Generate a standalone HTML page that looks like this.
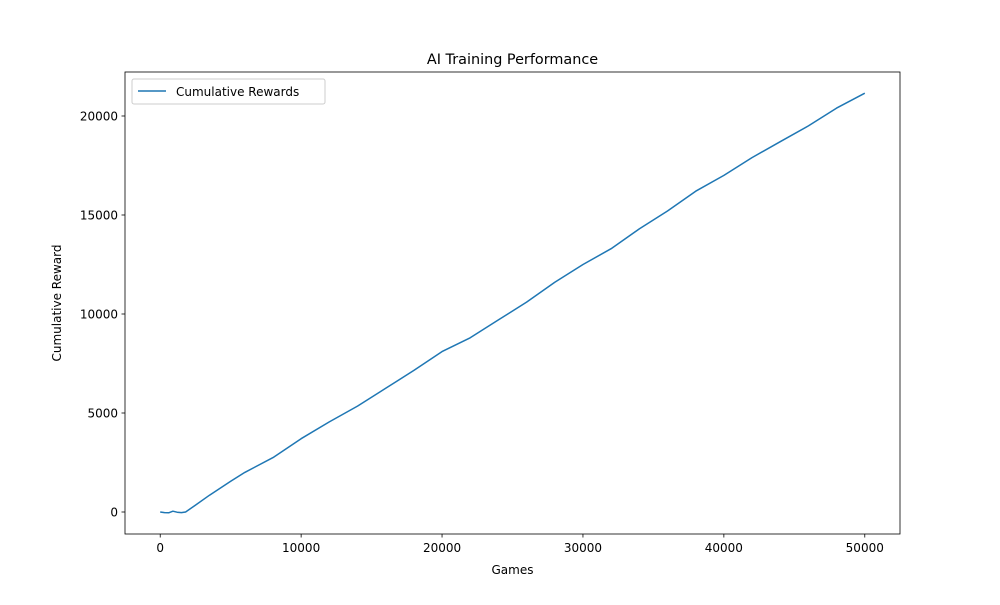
<!DOCTYPE html>
<html><head><meta charset="utf-8">
<style>
body{margin:0;background:#fff;}
svg text{font-family:"DejaVu Sans","Liberation Sans",sans-serif;fill:#000;}
</style></head>
<body>
<svg id="chart" width="1000" height="600" xmlns="http://www.w3.org/2000/svg">
<rect width="1000" height="600" fill="#fff"/>
<text x="512.5" y="64" font-size="14.4" text-anchor="middle">AI Training Performance</text>
<g id="xticks"></g>
<g id="yticks"></g>
<polyline id="line" fill="none" stroke="#1f77b4" stroke-width="1.5" stroke-linejoin="round"/>
<rect x="125" y="72" width="775" height="462" fill="none" stroke="#000" stroke-width="0.8"/>
<text x="512.5" y="574" font-size="12" text-anchor="middle">Games</text>
<text transform="translate(61,303) rotate(-90)" font-size="12" text-anchor="middle">Cumulative Reward</text>
<g>
<rect x="132" y="79" width="193" height="25" rx="2" fill="#fff" stroke="#ccc" stroke-width="1"/>
<line x1="138" y1="91" x2="166" y2="91" stroke="#1f77b4" stroke-width="1.5"/>
<text x="176" y="96" font-size="12">Cumulative Rewards</text>
</g>
</svg>
<script>
const games=[0,300,600,900,1200,1500,1800,2500,3500,5000,6000,8000,10000,12000,14000,16000,18000,20000,22000,24000,26000,28000,30000,32000,34000,36000,38000,40000,42000,44000,46000,48000,50000];
const rewards=[0,-30,-40,40,-10,-30,0,350,850,1550,2000,2750,3700,4550,5350,6250,7150,8100,8800,9700,10600,11600,12500,13300,14300,15200,16200,17000,17900,18700,19500,20400,21150];
const xTicks=[0,10000,20000,30000,40000,50000];
const yTicks=[0,5000,10000,15000,20000];
const X0=125,X1=900,Y0=72,Y1=534,xmin=-2500,xmax=52500,ymin=-1111,ymax=22222;
const sx=v=>X0+(v-xmin)/(xmax-xmin)*(X1-X0);
const sy=v=>Y1-(v-ymin)/(ymax-ymin)*(Y1-Y0);
const ns="http://www.w3.org/2000/svg";
document.getElementById('line').setAttribute('points',games.map((g,i)=>sx(g).toFixed(1)+','+sy(rewards[i]).toFixed(1)).join(' '));
const xg=document.getElementById('xticks');
xTicks.forEach(t=>{
 const l=document.createElementNS(ns,'line');
 
 
 l.setAttribute('x1',sx(t));l.setAttribute('x2',sx(t));l.setAttribute('y1',Y1);l.setAttribute('y2',Y1+3.5);l.setAttribute('stroke','#000');l.setAttribute('stroke-width','0.8');
 xg.appendChild(l);
 const tx=document.createElementNS(ns,'text');
 
 
 tx.setAttribute('x',sx(t));tx.setAttribute('y',Y1+18);tx.setAttribute('font-size','12');tx.setAttribute('text-anchor','middle');
 tx.textContent=t;xg.appendChild(tx);
});
const yg=document.getElementById('yticks');
yTicks.forEach(t=>{
 const l=document.createElementNS(ns,'line');
 
 
 l.setAttribute('x1',X0-3.5);l.setAttribute('x2',X0);l.setAttribute('y1',sy(t));l.setAttribute('y2',sy(t));l.setAttribute('stroke','#000');l.setAttribute('stroke-width','0.8');
 yg.appendChild(l);
 const tx=document.createElementNS(ns,'text');
 
 
 tx.setAttribute('x',X0-7);tx.setAttribute('y',sy(t)+4.5);tx.setAttribute('font-size','12');tx.setAttribute('text-anchor','end');
 tx.textContent=t;yg.appendChild(tx);
});
</script>
</body></html>
